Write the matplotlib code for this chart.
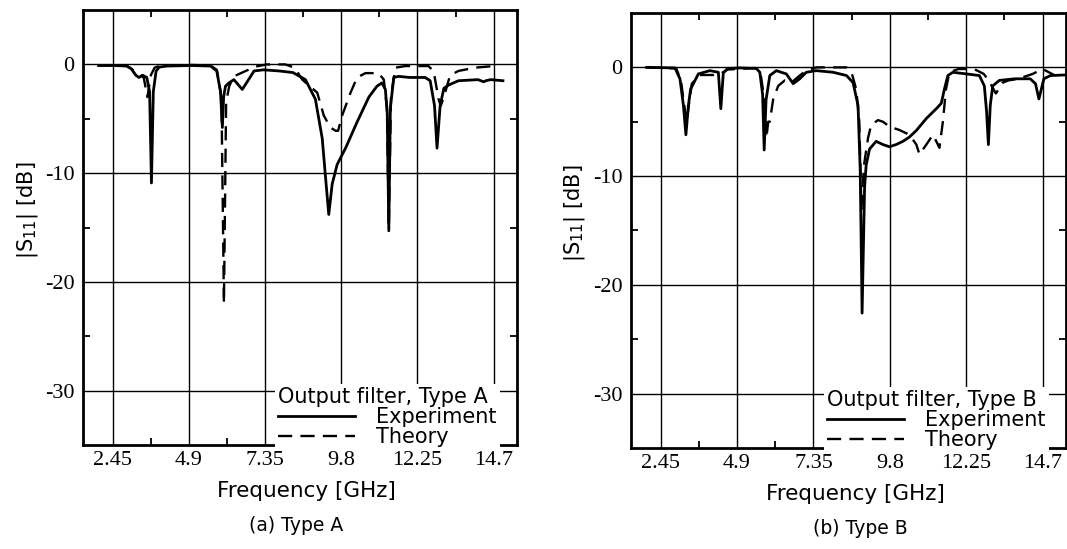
import numpy as np
import matplotlib
matplotlib.use('Agg')
import matplotlib.pyplot as plt
from matplotlib.ticker import FixedLocator

plt.rcParams['axes.unicode_minus'] = False

# (a) Type A
fa_exp = [2.0, 2.5, 2.9, 3.05, 3.2, 3.3, 3.42, 3.55, 3.64, 3.7, 3.76, 3.85, 3.95, 4.2, 5.0, 5.6, 5.8,
          5.92, 5.98, 6.02, 6.08, 6.19, 6.35, 6.5, 6.62, 6.8, 7.0, 7.3, 7.8, 8.25, 8.65, 8.97, 9.19,
          9.3, 9.4, 9.51, 9.67, 9.94, 10.31, 10.69, 10.95, 11.11, 11.22, 11.28, 11.33, 11.38, 11.49,
          11.65, 12.0, 12.5, 12.66, 12.8, 12.88, 12.98, 13.1, 13.25, 13.57, 14.2, 14.38, 14.45, 14.6, 15.0]
sa_exp = [-0.1, -0.1, -0.15, -0.4, -1.0, -1.2, -1.0, -1.2, -2.5, -10.9, -2.5, -0.6, -0.25, -0.15, -0.1,
          -0.15, -0.6, -2.5, -5.8, -3.0, -2.0, -1.7, -1.4, -1.9, -2.3, -1.5, -0.6, -0.5, -0.6, -0.75,
          -1.4, -3.2, -6.8, -10.5, -13.8, -11.0, -9.2, -7.7, -5.3, -3.0, -2.0, -1.7, -2.3, -4.5, -15.3,
          -4.0, -1.2, -1.1, -1.2, -1.2, -1.5, -3.8, -7.7, -3.8, -2.2, -1.9, -1.5, -1.4, -1.6, -1.5, -1.4, -1.5]
fa_th = [2.0, 2.9, 3.1, 3.3, 3.45, 3.57, 3.68, 3.8, 4.0, 5.0, 5.6, 5.8, 5.95, 6.03, 6.1, 6.2, 6.35,
         6.73, 7.05, 7.4, 8.0, 8.3, 8.55, 9.03, 9.24, 9.45, 9.62, 9.7, 9.83, 10.1, 10.31, 10.58, 11.0,
         11.17, 11.27, 11.33, 11.4, 11.54, 11.86, 12.6, 12.77, 12.93, 13.0, 13.1, 13.3, 13.57, 14.1, 14.7]
sa_th = [-0.1, -0.1, -0.5, -0.9, -1.2, -3.0, -1.0, -0.3, -0.1, -0.05, -0.1, -0.5, -3.0, -22.0, -3.5,
         -2.0, -1.1, -0.6, -0.2, 0.0, 0.0, -0.3, -1.4, -2.6, -4.7, -5.8, -6.1, -6.1, -4.7, -2.6, -1.2,
         -0.8, -0.8, -1.4, -4.0, -15.0, -3.0, -0.3, -0.15, -0.15, -0.6, -3.2, -3.8, -3.0, -1.0, -0.6, -0.3, -0.15]

# (b) Type B
fb_exp = [2.0, 2.91, 3.07, 3.18, 3.26, 3.34, 3.41, 3.66, 4.03, 4.30, 4.38, 4.46, 4.6, 5.0, 5.52, 5.63,
          5.72, 5.77, 5.83, 5.95, 6.16, 6.48, 6.70, 6.91, 7.12, 7.44, 7.98, 8.41, 8.62, 8.78, 8.85, 8.91,
          8.99, 9.04, 9.15, 9.36, 9.58, 9.79, 10.0, 10.22, 10.43, 10.65, 10.97, 11.29, 11.45, 11.55,
          11.66, 11.82, 12.25, 12.67, 12.83, 12.9, 12.96, 13.02, 13.10, 13.31, 13.8, 14.3, 14.47, 14.58,
          14.74, 14.95, 15.4]
sb_exp = [0.0, -0.05, -1.06, -3.5, -6.2, -3.5, -2.0, -0.6, -0.3, -0.45, -3.8, -0.5, -0.1, -0.05, -0.1,
          -0.45, -2.5, -7.6, -3.0, -0.75, -0.3, -0.6, -1.5, -1.05, -0.45, -0.3, -0.45, -0.75, -1.4, -3.5,
          -9.5, -22.6, -11.0, -9.0, -7.5, -6.8, -7.1, -7.3, -7.1, -6.8, -6.4, -5.8, -4.7, -3.8, -3.3,
          -2.0, -0.75, -0.45, -0.6, -0.75, -1.7, -4.0, -7.1, -3.5, -1.7, -1.2, -1.05, -1.05, -1.5, -2.9,
          -1.05, -0.75, -0.7]
fb_th = [2.0, 2.95, 3.1, 3.28, 3.45, 3.7, 4.3, 4.6, 5.5, 5.65, 5.78, 5.84, 5.9, 5.95, 6.06, 6.22, 6.43,
         6.64, 6.91, 7.12, 7.44, 8.41, 8.57, 8.72, 8.82, 8.89, 8.97, 9.1, 9.2, 9.42, 9.58, 9.79, 10.1,
         10.43, 10.65, 10.75, 10.97, 11.18, 11.29, 11.39, 11.5, 11.6, 11.71, 12.0, 12.5, 12.81, 12.97,
         13.2, 13.42, 13.6, 13.92, 14.38, 14.7, 14.9, 15.1]
sb_th = [0.0, -0.1, -1.2, -5.0, -1.5, -0.7, -0.7, -0.2, -0.05, -0.5, -3.0, -6.5, -5.0, -5.0, -2.9, -1.7,
         -1.2, -1.4, -0.75, -0.3, 0.0, 0.0, -0.45, -2.0, -5.0, -13.0, -9.0, -6.5, -5.3, -4.85, -5.0,
         -5.45, -5.75, -6.2, -7.1, -8.0, -7.1, -6.2, -6.8, -7.4, -5.0, -2.0, -0.45, -0.15, -0.15, -0.6,
         -1.2, -2.4, -1.4, -1.2, -1.05, -0.6, -0.15, -0.45, -0.75]

xticks = [2.45, 4.9, 7.35, 9.8, 12.25, 14.7]
xticklabels = ['2.45', '4.9', '7.35', '9.8', '12.25', '14.7']
yticks = [0, -10, -20, -30]

fig = plt.figure(figsize=(10.67, 5.49), dpi=100)

def panel(rect, f_exp, s_exp, f_th, s_th, title, caption, cap_x):
	ax = fig.add_axes(rect)
	ax.plot(f_exp, s_exp, color='black', lw=2.0, label='Experiment')
	ax.plot(f_th, s_th, color='black', lw=1.7, ls=(0, (6, 3.5)), label='Theory')
	ax.set_xlim(1.5, 15.45)
	ax.set_ylim(-35, 5)
	ax.set_xticks(xticks)
	ax.set_xticklabels(xticklabels)
	ax.set_yticks(yticks)
	ax.xaxis.set_minor_locator(FixedLocator([3.675, 6.125, 8.575, 11.025, 13.475]))
	ax.yaxis.set_minor_locator(FixedLocator([-5, -15, -25]))
	ax.grid(True, which='major', color='black', lw=1.0)
	ax.tick_params(which='major', length=0, labelsize=16)
	ax.tick_params(axis='x', which='major', pad=4)
	ax.tick_params(axis='y', which='major', pad=6)
	ax.tick_params(which='minor', direction='in', length=5, width=1.3,
		top=True, bottom=True, left=True, right=True)
	for lbl in ax.get_xticklabels() + ax.get_yticklabels():
		lbl.set_family('Liberation Serif')
	for s in ax.spines.values():
		s.set_linewidth(2.0)
	ax.set_xlabel('Frequency [GHz]', fontsize=15.5, va='center')
	ax.xaxis.set_label_coords(0.515, -0.105)
	ax.set_ylabel(r'|S$_{11}$| [dB]', fontsize=15, va='center')
	ax.yaxis.set_label_coords(-0.129, 0.54)
	ax.legend(title=title, loc='lower right', bbox_to_anchor=(0.96, -0.012),
		borderaxespad=0, borderpad=0.15, frameon=True, facecolor='white', edgecolor='none',
		framealpha=1, fancybox=False, fontsize=15, title_fontsize=15, handlelength=3.7,
		handletextpad=1.0, labelspacing=0.0, alignment='left')
	ax.text(cap_x, -0.185, caption, transform=ax.transAxes, ha='center', va='center', fontsize=13.5)
	return ax

panel([0.0778, 0.1894, 0.4067, 0.7923], fa_exp, sa_exp, fa_th, sa_th,
	'Output filter, Type A', '(a) Type A', 0.49)
panel([0.5914, 0.184, 0.4077, 0.7923], fb_exp, sb_exp, fb_th, sb_th,
	'Output filter, Type B', '(b) Type B', 0.527)

fig.savefig('out.png', dpi=100, facecolor='white')
